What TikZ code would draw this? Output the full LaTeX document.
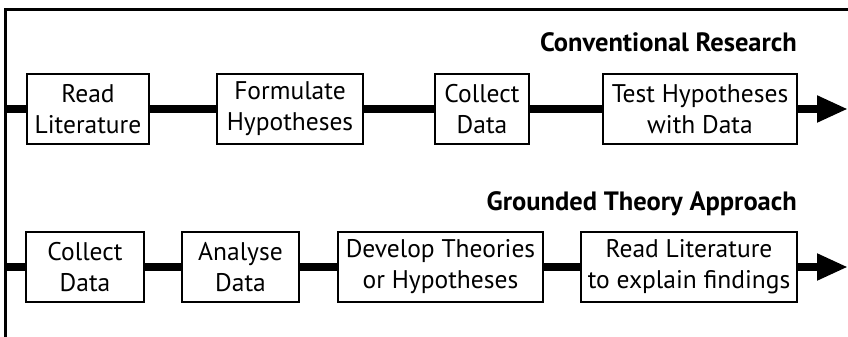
\documentclass[tikz,border=0pt]{standalone}
\usepackage{fontspec}
\setmainfont{PT Sans}
\usetikzlibrary{arrows.meta}

\begin{document}
\begin{tikzpicture}[x=1pt,y=1pt,
  stepbox/.style={draw,line width=2pt,fill=white,align=center,minimum height=70pt,inner sep=0pt,font=\fontsize{25.5}{31}\selectfont},
  flowline/.style={line width=8pt},
  rowtitle/.style={anchor=base east,inner sep=0pt,font=\fontsize{26.5}{31}\selectfont\bfseries}]
\useasboundingbox (0,0) rectangle (848,337);
% frame on top and left
\draw[line width=3pt] (5,0) -- (5,327) -- (848,327);
% conventional research row
\node[rowtitle] (convtitle) at (797,285) {Conventional Research};
\coordinate (conv0) at (5,228);
\node[stepbox,minimum width=122pt] (conv1) at (88,228) {Read\\Literature};
\node[stepbox,minimum width=146pt] (conv2) at (290,228) {Formulate\\Hypotheses};
\node[stepbox,minimum width=94pt] (conv3) at (482,228) {Collect\\Data};
\node[stepbox,minimum width=194pt] (conv4) at (700,228) {Test Hypotheses\\with Data};
\coordinate (conv5) at (848,228);
\draw[flowline] (conv0) -- (conv1);
\draw[flowline] (conv1) -- (conv2);
\draw[flowline] (conv2) -- (conv3);
\draw[flowline] (conv3) -- (conv4);
\draw[flowline,-{Triangle[length=31pt,width=25pt]}] (conv4) -- (conv5);
% grounded theory row
\node[rowtitle] (grndtitle) at (797,126) {Grounded Theory Approach};
\coordinate (grnd0) at (5,70);
\node[stepbox,minimum width=118pt] (grnd1) at (85,70) {Collect\\Data};
\node[stepbox,minimum width=117pt] (grnd2) at (240.5,70) {Analyse\\Data};
\node[stepbox,minimum width=205pt] (grnd3) at (440.5,70) {Develop Theories\\or Hypotheses};
\node[stepbox,minimum width=216pt] (grnd4) at (689,70) {Read Literature\\to explain findings};
\coordinate (grnd5) at (848,70);
\draw[flowline] (grnd0) -- (grnd1);
\draw[flowline] (grnd1) -- (grnd2);
\draw[flowline] (grnd2) -- (grnd3);
\draw[flowline] (grnd3) -- (grnd4);
\draw[flowline,-{Triangle[length=31pt,width=25pt]}] (grnd4) -- (grnd5);
\end{tikzpicture}
\end{document}
